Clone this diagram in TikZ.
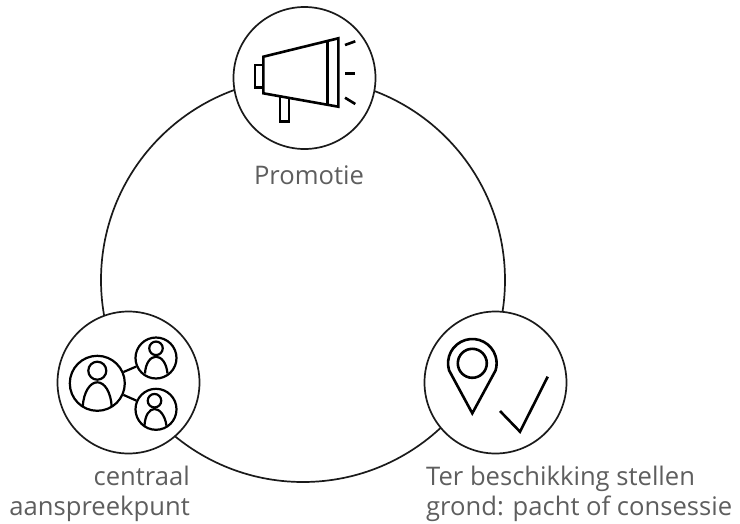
\documentclass[tikz,border=0pt]{standalone}
\usepackage{fontspec}
\setmainfont{Open Sans}
\definecolor{labelgrey}{HTML}{5E5E5E}
\definecolor{inkline}{HTML}{1A1A1A}
\tikzset{
  bigring/.style={circle,draw=inkline,line width=1.7pt,minimum size=404pt,inner sep=0pt},
  ring/.style={circle,draw=inkline,fill=white,line width=1.7pt,minimum size=142pt,inner sep=0pt},
  person/.style={circle,draw=black,line width=2.2pt,inner sep=0pt},
  icon/.style={draw=black,line width=2.6pt,line join=miter},
  lbl/.style={text=labelgrey,inner sep=0pt,font=\fontsize{25.6}{30}\selectfont},
}
\begin{document}
\begin{tikzpicture}[x=1pt,y=-1pt]
\useasboundingbox (0,0) rectangle (740,523);
\node[bigring] (cycle) at (303,280) {};
\node[ring] (promo) at (304.5,78) {};
\node[ring] (contact) at (128.5,382.5) {};
\node[ring] (ground) at (495.5,382.5) {};
% megaphone
\draw[icon] (263.3,56.7) -- (338.3,38.3) -- (338.3,106.7) -- (263.3,93.3) -- cycle;
\draw[icon] (327.3,41.7) -- (327.3,104);
\draw[icon] (263.3,65) -- (255,65) -- (255,87.3) -- (263.3,87.3);
\draw[icon] (280,97.3) -- (280,121.7) -- (289,121.7) -- (289,99);
\draw[icon] (345,45) -- (355.3,41.3);
\draw[icon] (345,73.3) -- (355.3,73.3);
\draw[icon] (345,97.7) -- (355.3,104);
% people
\node[person,minimum size=55pt] (pmain) at (97.3,383.3) {};
\node[person,minimum size=41pt] (ptop) at (156,358) {};
\node[person,minimum size=41pt] (pbottom) at (156,409.3) {};
\draw[line width=2.2pt] (pmain) -- (ptop);
\draw[line width=2.2pt] (pmain) -- (pbottom);
\node[person,minimum size=18pt] (hmain) at (97.3,370.7) {};
\node[person,minimum size=13.5pt] (htop) at (156,348.3) {};
\node[person,minimum size=13.5pt] (hbottom) at (154.5,400.7) {};
\draw[line width=2.2pt] (82.7,407) .. controls (83.5,392) and (90,382.3) .. (97.3,382.3) .. controls (104.6,382.3) and (111,392) .. (111.7,407);
\draw[line width=2.2pt] (145,373.5) .. controls (145.5,363) and (150.5,356.7) .. (156,356.7) .. controls (161.5,356.7) and (166.5,363) .. (167.5,373.5);
\draw[line width=2.2pt] (144.5,425.7) .. controls (145,415) and (149.5,409) .. (154.5,409) .. controls (159.5,409) and (165,415) .. (166.5,425.7);
% pin and check
\draw[icon] (472.3,413.3) -- (449.1,370.4) arc[start angle=163,end angle=377,radius=24.3] -- cycle;
\node[circle,draw=black,line width=2.6pt,inner sep=0pt,minimum size=29pt] (pinhole) at (472.3,363.3) {};
\draw[icon] (500,411) -- (520,431.7) -- (547.7,376.7);
% labels
\node[lbl,anchor=base] (promolabel) at (309,184) {Promotie};
\node[lbl,align=right,anchor=north east] (contactlabel) at (190,466) {centraal\\aanspreekpunt};
\node[lbl,align=left,anchor=north west] (groundlabel) at (426,466) {Ter beschikking stellen\\grond: pacht of consessie};
\end{tikzpicture}
\end{document}
